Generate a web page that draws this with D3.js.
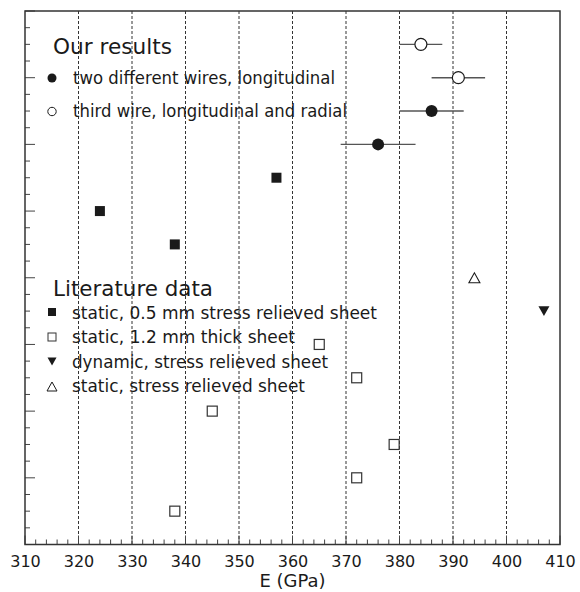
<!DOCTYPE html>
<html><head><meta charset="utf-8">
<script src="https://cdn.jsdelivr.net/npm/d3@7"></script>
<style>body{margin:0;background:#fff}svg{display:block}</style>
</head><body>
<svg id="c" width="580" height="592"></svg>
<script>
// ---- data ----
const xTickValues = [310,320,330,340,350,360,370,380,390,400,410];
const gridValues = [320,330,340,350,360,370,380,390,400];
// Our results
const openE = [384, 391];  const openRow = [15, 14];  const openErr = [4, 5];
const filledE = [386, 376]; const filledRow = [13, 12]; const filledErr = [6, 7];
// Literature
const static05E = [357, 324, 338]; const static05Row = [11, 10, 9];
const staticSRE = [394]; const staticSRRow = [8];
const dynamicE = [407]; const dynamicRow = [7];
const static12E = [365, 372, 345, 379, 372, 338]; const static12Row = [6, 5, 4, 3, 2, 1];
const ourLegend = ["two different wires, longitudinal", "third wire, longitudinal and radial"];
const litLegend = ["static, 0.5 mm stress relieved sheet", "static, 1.2 mm thick sheet",
                   "dynamic, stress relieved sheet", "static, stress relieved sheet"];

// ---- drawing ----
const svg = d3.select("#c");
const FONT = "DejaVu Sans, sans-serif";
const ink = "#1a1a1a";
const x = d3.scaleLinear().domain([310, 410]).range([25, 560]);
const y = d3.scaleLinear().domain([0, 16]).range([544.5, 11]);

// grid
svg.append("g").selectAll("line").data(gridValues).join("line")
  .attr("x1", d => x(d)).attr("x2", d => x(d))
  .attr("y1", y(16)).attr("y2", y(0))
  .attr("stroke", "#333").attr("stroke-width", 1).attr("stroke-dasharray", "3,2");

// x-axis minor ticks (inward)
const xMinor = d3.range(310, 410.01, 2);
svg.append("g").selectAll("line").data(xMinor).join("line")
  .attr("x1", d => x(d)).attr("x2", d => x(d))
  .attr("y1", y(0)).attr("y2", d => y(0) - (d % 10 === 0 ? 9 : 5))
  .attr("stroke", "#444").attr("stroke-width", 1);
// y-axis ticks (inward)
const yMinor = d3.range(0, 16.01, 0.5);
svg.append("g").selectAll("line").data(yMinor).join("line")
  .attr("x1", x(310)).attr("x2", d => x(310) + (d % 2 === 0 ? 10 : 5))
  .attr("y1", d => y(d)).attr("y2", d => y(d))
  .attr("stroke", "#444").attr("stroke-width", 1);

// frame
svg.append("rect").attr("x", x(310)).attr("y", y(16))
  .attr("width", x(410) - x(310)).attr("height", y(0) - y(16))
  .attr("fill", "none").attr("stroke", "#333").attr("stroke-width", 1.5);

// tick labels
const xAxis = d3.axisBottom(x).tickValues(xTickValues).tickSize(0).tickPadding(0).tickFormat(d3.format("d"));
const gx = svg.append("g").attr("transform", `translate(0,${y(0)})`).call(xAxis);
gx.select(".domain").remove();
gx.selectAll("text").attr("font-family", FONT).attr("font-size", 16).attr("fill", ink)
  .attr("dy", null).attr("y", 22);

svg.append("text").attr("x", x(360)).attr("y", 587).attr("text-anchor", "middle")
  .attr("font-family", FONT).attr("font-size", 18).attr("fill", ink).text("E (GPa)");

// error bars
function errbars(E, R, err) {
  svg.append("g").selectAll("line").data(E).join("line")
    .attr("x1", (d, i) => x(d - err[i])).attr("x2", (d, i) => x(d + err[i]))
    .attr("y1", (d, i) => y(R[i])).attr("y2", (d, i) => y(R[i]))
    .attr("stroke", "#555").attr("stroke-width", 1.4);
}
errbars(openE, openRow, openErr);
errbars(filledE, filledRow, filledErr);

svg.append("g").selectAll("circle").data(openE).join("circle")
  .attr("cx", d => x(d)).attr("cy", (d, i) => y(openRow[i])).attr("r", 6)
  .attr("fill", "#fff").attr("stroke", ink).attr("stroke-width", 1.2);
svg.append("g").selectAll("circle").data(filledE).join("circle")
  .attr("cx", d => x(d)).attr("cy", (d, i) => y(filledRow[i])).attr("r", 6)
  .attr("fill", ink);

const sqSize = 10;
svg.append("g").selectAll("rect").data(static05E).join("rect")
  .attr("x", d => x(d) - sqSize / 2).attr("y", (d, i) => y(static05Row[i]) - sqSize / 2)
  .attr("width", sqSize).attr("height", sqSize).attr("fill", ink);
svg.append("g").selectAll("rect").data(static12E).join("rect")
  .attr("x", d => x(d) - sqSize / 2).attr("y", (d, i) => y(static12Row[i]) - sqSize / 2)
  .attr("width", sqSize).attr("height", sqSize).attr("fill", "#fff")
  .attr("stroke", "#333").attr("stroke-width", 1.2);

function tri(cx, cy, s, down) {
  const h = s * 0.9;
  return down
    ? `M${cx - s / 2},${cy - h / 2}L${cx + s / 2},${cy - h / 2}L${cx},${cy + h / 2}Z`
    : `M${cx - s / 2},${cy + h / 2}L${cx + s / 2},${cy + h / 2}L${cx},${cy - h / 2}Z`;
}
svg.append("g").selectAll("path").data(staticSRE).join("path")
  .attr("d", (d, i) => tri(x(d), y(staticSRRow[i]), 11, false))
  .attr("fill", "#fff").attr("stroke", ink).attr("stroke-width", 1.1);
svg.append("g").selectAll("path").data(dynamicE).join("path")
  .attr("d", (d, i) => tri(x(d), y(dynamicRow[i]), 11, true))
  .attr("fill", ink);

// legends
function txt(s, xx, yy, size, width) {
  const t = svg.append("text").attr("x", xx).attr("y", yy)
    .attr("font-family", FONT).attr("font-size", size).attr("fill", ink).text(s);
  if (width) t.attr("textLength", width).attr("lengthAdjust", "spacingAndGlyphs");
  return t;
}
txt("Our results", 53, 54, 22, 119);
const ourW = [262, 274];
const ourY = [83.5, 116.5];
svg.append("circle").attr("cx", 52).attr("cy", ourY[0] - 5.5).attr("r", 4.5).attr("fill", ink);
svg.append("circle").attr("cx", 52).attr("cy", ourY[1] - 5).attr("r", 4.2)
  .attr("fill", "#fff").attr("stroke", ink).attr("stroke-width", 1);
ourLegend.forEach((s, i) => txt(s, 73, ourY[i], 17, ourW[i]));

txt("Literature data", 53, 296, 22, 160);
const litY = [318.5, 343, 367.5, 392];
const litW = [305, 223, 256, 233];
litLegend.forEach((s, i) => txt(s, 72, litY[i], 17, litW[i]));
svg.append("rect").attr("x", 48).attr("y", litY[0] - 10.5).attr("width", 8).attr("height", 8).attr("fill", ink);
svg.append("rect").attr("x", 48).attr("y", litY[1] - 10).attr("width", 8).attr("height", 8)
  .attr("fill", "#fff").attr("stroke", "#333").attr("stroke-width", 1);
svg.append("path").attr("d", tri(52, litY[2] - 6, 9, true)).attr("fill", ink);
svg.append("path").attr("d", tri(52, litY[3] - 5.5, 10, false)).attr("fill", "#fff")
  .attr("stroke", ink).attr("stroke-width", 1);
</script>
</body></html>
